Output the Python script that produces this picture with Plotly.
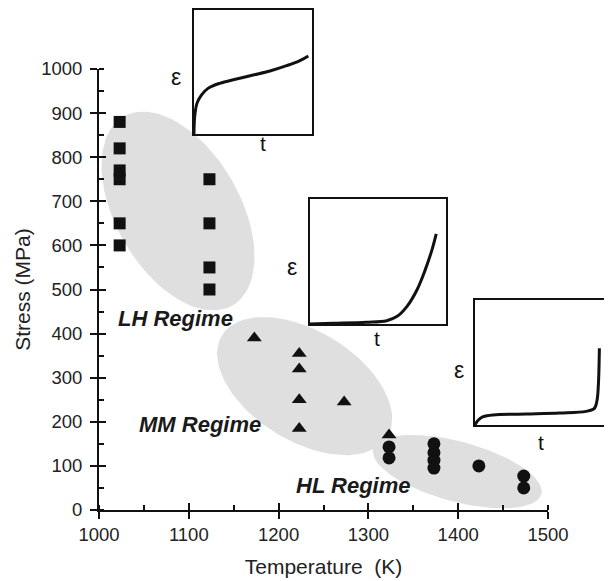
import numpy as np
import plotly.graph_objects as go

# ---------------- data ----------------
sq_T = [1023, 1023, 1023, 1023, 1023, 1023, 1123, 1123, 1123, 1123]
sq_S = [880, 820, 770, 750, 650, 600, 750, 650, 550, 500]
tri_T = [1173, 1223, 1223, 1223, 1223, 1273, 1323]
tri_S = [390, 355, 320, 250, 185, 245, 170]
circ_T = [1323, 1323, 1373, 1373, 1373, 1373, 1423, 1473, 1473]
circ_S = [143, 118, 150, 130, 113, 95, 100, 77, 50]

x_ticks = [1000, 1100, 1200, 1300, 1400, 1500]
y_ticks = [0, 100, 200, 300, 400, 500, 600, 700, 800, 900, 1000]

# schematic creep curves (strain vs time) in the three insets, normalised 0..1
lh_t = [0.008, 0.014, 0.033, 0.070, 0.125, 0.223, 0.362, 0.501, 0.641, 0.780, 0.891, 0.961]
lh_e = [0.000, 0.146, 0.251, 0.317, 0.370, 0.410, 0.444, 0.476, 0.508, 0.550, 0.590, 0.627]
mm_t = [0.005, 0.175, 0.417, 0.563, 0.636, 0.709, 0.782, 0.842, 0.891, 0.922]
mm_e = [0.008, 0.013, 0.021, 0.034, 0.066, 0.145, 0.276, 0.434, 0.592, 0.718]
hl_t = [0.007, 0.032, 0.068, 0.141, 0.385, 0.629, 0.824, 0.885, 0.905, 0.915, 0.922]
hl_e = [0.008, 0.047, 0.073, 0.087, 0.094, 0.102, 0.115, 0.139, 0.205, 0.336, 0.612]

regime_labels = ["LH Regime", "MM Regime", "HL Regime"]
regime_T = [1085, 1112, 1283]
regime_S = [435, 193, 55]

# ---------------- layout geometry ----------------
OFF = 8                     # page body margin
W, H = 612 - OFF, 581 - OFF
FONT = "Arial, 'Liberation Sans', sans-serif"
INK = "#111111"
X0, X1 = 99, 548            # main plot area in window pixels
Y0, Y1 = 69, 510
XR = [1000, 1500]
YR = [0, 1000]
kx = (X1 - X0) / (XR[1] - XR[0])
ky = (Y1 - Y0) / (YR[1] - YR[0])

# inset boxes in window pixels: left, right, top, bottom
INSET_BOXES = [(193, 313, 9, 135), (309, 447, 198, 325), (474, 610, 299, 426)]


def px_x(a):
    return (a - OFF) / W


def px_y(b):
    return 1 - (b - OFF) / H


def px_dom_x(a, b):
    return [px_x(a), px_x(b)]


def px_dom_y(top, bottom):
    return [px_y(bottom), px_y(top)]


def ellipse(Tc, Sc, a, b, ang):
    th = np.radians(ang)
    phi = np.linspace(0, 2 * np.pi, 120)
    dx = a * np.cos(phi) * np.cos(th) - b * np.sin(phi) * np.sin(th)
    dy = a * np.cos(phi) * np.sin(th) + b * np.sin(phi) * np.cos(th)
    return Tc + dx / kx, Sc - dy / ky


fig = go.Figure()

# grey regime ellipses
for (Tc, Sc, a, b, ang) in [(1088, 678, 109, 62, 60),
                             (1229, 281, 97, 55, 31.5),
                             (1399, 87, 87, 30, 15)]:
    ex, ey = ellipse(Tc, Sc, a, b, ang)
    fig.add_trace(go.Scatter(x=ex, y=ey, mode="lines", fill="toself",
                             fillcolor="#dfdfdf", line=dict(width=0),
                             hoverinfo="skip", showlegend=False))

fig.add_trace(go.Scatter(x=sq_T, y=sq_S, mode="markers", showlegend=False,
                         marker=dict(symbol="square", size=12, color=INK)))
fig.add_trace(go.Scatter(x=tri_T, y=tri_S, mode="markers", showlegend=False,
                         marker=dict(symbol="triangle-up", size=13, color=INK)))
fig.add_trace(go.Scatter(x=circ_T, y=circ_S, mode="markers", showlegend=False,
                         marker=dict(symbol="circle", size=13, color=INK)))

# dummy traces for the overlay axes that draw the inner half of the major ticks
fig.add_trace(go.Scatter(x=[None], y=[None], xaxis="x5", yaxis="y",
                         showlegend=False, hoverinfo="skip"))
fig.add_trace(go.Scatter(x=[None], y=[None], xaxis="x", yaxis="y5",
                         showlegend=False, hoverinfo="skip"))

# insets
insets = [(lh_t, lh_e, "x2", "y2"), (mm_t, mm_e, "x3", "y3"), (hl_t, hl_e, "x4", "y4")]
shapes = []
for (tt, ee, xa, ya), (l, r, t, b) in zip(insets, INSET_BOXES):
    fig.add_trace(go.Scatter(x=[0, 1, 1, 0, 0], y=[0, 0, 1, 1, 0], mode="lines",
                             fill="toself", fillcolor="white", line=dict(width=0),
                             xaxis=xa, yaxis=ya, showlegend=False, hoverinfo="skip"))
    fig.add_trace(go.Scatter(x=tt, y=ee, mode="lines",
                             line=dict(color=INK, width=3, shape="spline"),
                             xaxis=xa, yaxis=ya, showlegend=False, hoverinfo="skip"))
    shapes.append(dict(type="rect", xref="paper", yref="paper",
                       x0=px_x(l), x1=px_x(r), y0=px_y(b), y1=px_y(t), layer="above",
                       line=dict(color=INK, width=2)))

main_axis_common = dict(showline=True, linewidth=2, linecolor=INK, ticks="outside",
                        ticklen=7, tickwidth=2, tickcolor=INK, showgrid=False,
                        zeroline=False, automargin=False,
                        tickfont=dict(family=FONT, size=18.5, color="#222222"))

inset_axis = dict(range=[0, 1], showline=False, ticks="", showticklabels=False,
                  showgrid=False, zeroline=False, automargin=False, fixedrange=True)

axes = {}
for k, (l, r, t, b) in enumerate(INSET_BOXES, start=2):
    axes[f"xaxis{k}"] = dict(domain=px_dom_x(l, r), anchor=f"y{k}", **inset_axis)
    axes[f"yaxis{k}"] = dict(domain=px_dom_y(t, b), anchor=f"x{k}", **inset_axis)

layout = dict(
    width=W, height=H, margin=dict(l=0, r=0, t=0, b=0),
    paper_bgcolor="white", plot_bgcolor="white", showlegend=False,
    font=dict(family=FONT, color="#222222"),
    xaxis=dict(domain=px_dom_x(X0, X1), range=XR, anchor="y",
               tickvals=x_ticks, ticktext=[str(v) for v in x_ticks],
               minor=dict(ticks="inside", dtick=50, tick0=1000, ticklen=5, tickwidth=2,
                          tickcolor=INK, showgrid=False),
               title=dict(text="Temperature  (K)", standoff=15,
                          font=dict(family=FONT, size=21, color="#222222")),
               **main_axis_common),
    yaxis=dict(domain=px_dom_y(Y0, Y1), range=YR, anchor="x",
               tickvals=y_ticks, ticktext=[str(v) for v in y_ticks],
               ticklabelstandoff=4,
               minor=dict(ticks="inside", dtick=50, tick0=0, ticklen=5, tickwidth=2,
                          tickcolor=INK, showgrid=False),
               title=dict(text="Stress (MPa)", standoff=5,
                          font=dict(family=FONT, size=21, color="#222222")),
               **main_axis_common),
    xaxis5=dict(overlaying="x", anchor="y", range=XR, tickvals=x_ticks, ticks="inside",
                ticklen=7, tickwidth=2, tickcolor=INK, showticklabels=False,
                showline=False, showgrid=False, zeroline=False, automargin=False),
    yaxis5=dict(overlaying="y", anchor="x", range=YR, tickvals=y_ticks, ticks="inside",
                ticklen=7, tickwidth=2, tickcolor=INK, showticklabels=False,
                showline=False, showgrid=False, zeroline=False, automargin=False),
    shapes=shapes,
    **axes,
)
fig.update_layout(**layout)

annotations = []
for txt, tx, sy in zip(regime_labels, regime_T, regime_S):
    annotations.append(dict(x=tx, y=sy, xref="x", yref="y", text=f"<b><i>{txt}</i></b>",
                            xanchor="center", yanchor="middle", showarrow=False,
                            font=dict(family=FONT, size=22, color="#1a1a1a")))
for (ex, ey) in [(176, 77), (292, 267), (459, 370)]:
    annotations.append(dict(x=px_x(ex), y=px_y(ey), xref="paper", yref="paper", text="ε",
                            xanchor="center", yanchor="middle", showarrow=False,
                            font=dict(family=FONT, size=23, color="#111111")))
for (tx, ty) in [(263, 144), (377, 338), (541, 442)]:
    annotations.append(dict(x=px_x(tx), y=px_y(ty), xref="paper", yref="paper", text="t",
                            xanchor="center", yanchor="middle", showarrow=False,
                            font=dict(family=FONT, size=21, color="#111111")))
fig.update_layout(annotations=annotations)

fig.write_html("out.html")
